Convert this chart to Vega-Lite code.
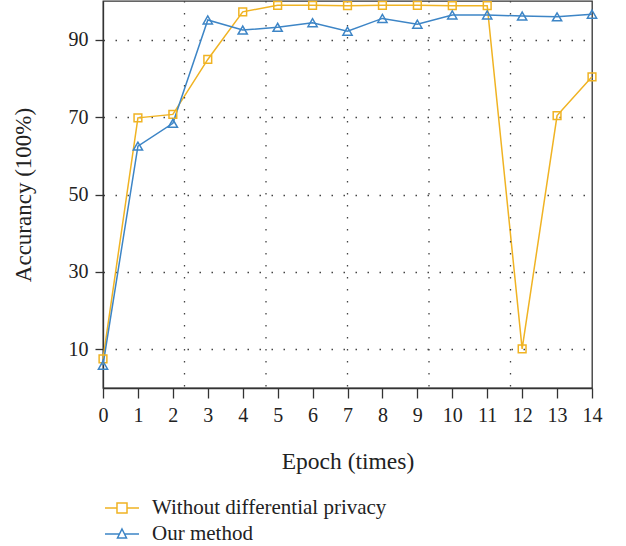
{
  "$schema": "https://vega.github.io/schema/vega-lite/v6.json",
  "width": 489,
  "height": 387,
  "autosize": "none",
  "padding": {"left": 103, "top": 1, "right": 34, "bottom": 158},
  "background": "white",
  "config": {
    "view": {"stroke": "#333", "strokeWidth": 1.3},
    "font": "Liberation Serif",
    "axis": {
      "labelFont": "Liberation Serif",
      "titleFont": "Liberation Serif",
      "labelColor": "#222",
      "titleColor": "#222",
      "domainColor": "#333",
      "tickColor": "#333",
      "domainWidth": 1.3,
      "tickWidth": 1.3,
      "titleFontWeight": "normal",
      "labelOverlap": false
    }
  },
  "datasets": {
    "acc": [
      {"epoch": 0, "acc": 7.5, "series": "Without differential privacy"},
      {"epoch": 1, "acc": 69.8, "series": "Without differential privacy"},
      {"epoch": 2, "acc": 70.7, "series": "Without differential privacy"},
      {"epoch": 3, "acc": 84.9, "series": "Without differential privacy"},
      {"epoch": 4, "acc": 97.2, "series": "Without differential privacy"},
      {"epoch": 5, "acc": 98.9, "series": "Without differential privacy"},
      {"epoch": 6, "acc": 98.9, "series": "Without differential privacy"},
      {"epoch": 7, "acc": 98.8, "series": "Without differential privacy"},
      {"epoch": 8, "acc": 98.9, "series": "Without differential privacy"},
      {"epoch": 9, "acc": 98.9, "series": "Without differential privacy"},
      {"epoch": 10, "acc": 98.8, "series": "Without differential privacy"},
      {"epoch": 11, "acc": 98.8, "series": "Without differential privacy"},
      {"epoch": 12, "acc": 10.1, "series": "Without differential privacy"},
      {"epoch": 13, "acc": 70.4, "series": "Without differential privacy"},
      {"epoch": 14, "acc": 80.4, "series": "Without differential privacy"},
      {"epoch": 0, "acc": 5.9, "series": "Our method"},
      {"epoch": 1, "acc": 62.5, "series": "Our method"},
      {"epoch": 2, "acc": 68.4, "series": "Our method"},
      {"epoch": 3, "acc": 95.1, "series": "Our method"},
      {"epoch": 4, "acc": 92.5, "series": "Our method"},
      {"epoch": 5, "acc": 93.2, "series": "Our method"},
      {"epoch": 6, "acc": 94.4, "series": "Our method"},
      {"epoch": 7, "acc": 92.2, "series": "Our method"},
      {"epoch": 8, "acc": 95.5, "series": "Our method"},
      {"epoch": 9, "acc": 94.0, "series": "Our method"},
      {"epoch": 10, "acc": 96.4, "series": "Our method"},
      {"epoch": 11, "acc": 96.4, "series": "Our method"},
      {"epoch": 12, "acc": 96.1, "series": "Our method"},
      {"epoch": 13, "acc": 95.9, "series": "Our method"},
      {"epoch": 14, "acc": 96.6, "series": "Our method"}
    ],
    "grid": [
      {"g": 2.3333},
      {"g": 4.6667},
      {"g": 7},
      {"g": 9.3333},
      {"g": 11.6667}
    ]
  },
  "layer": [
    {
      "data": {"name": "acc"},
      "mark": {"type": "line", "strokeWidth": 1.5},
      "encoding": {
        "x": {
          "field": "epoch", "type": "quantitative",
          "scale": {"domain": [0, 14], "nice": false},
          "axis": {
            "values": [0,1,2,3,4,5,6,7,8,9,10,11,12,13,14],
            "tickCount": 30,
            "format": "d",
            "labelFlush": false,
            "grid": false, "tickSize": 10, "labelFontSize": 20, "labelPadding": 7, "labelOverlap": false,
            "title": "Epoch (times)", "titleFontSize": 23.5, "titlePadding": 24
          }
        },
        "y": {
          "field": "acc", "type": "quantitative",
          "scale": {"domain": [0, 100], "nice": false},
          "axis": {
            "values": [10, 30, 50, 70, 90],
            "grid": true, "gridDash": [1.5, 10.5], "gridColor": "#444", "gridWidth": 1.3,
            "tickSize": 8, "labelFontSize": 20, "labelPadding": 7,
            "title": "Accurancy (100%)", "titleFontSize": 23, "titlePadding": 33
          }
        },
        "color": {
          "field": "series", "type": "nominal",
          "scale": {"domain": ["Without differential privacy", "Our method"], "range": ["#F0B323", "#3D85C6"]},
          "legend": {
            "title": null,
            "orient": "none",
            "legendX": 5,
            "legendY": 493,
            "direction": "vertical",
            "padding": 0,
            "rowPadding": 2,
            "symbolSize": 676,
            "symbolStrokeWidth": 1.5,
            "labelOffset": 16,
            "labelFont": "Liberation Serif",
            "labelFontSize": 21,
            "labelColor": "#222",
            "labelLimit": 400,
            "encode": {
              "symbols": {
                "update": {
                  "shape": {"signal": "datum.value === 'Our method' ? 'M-1.31,0H-0.19M0.19,0H1.31M0,-0.385L0.346,0.31L-0.346,0.31Z' : 'M-1.31,0H-0.385M0.385,0H1.31M-0.385,-0.385H0.385V0.385H-0.385Z'"},
                  "fill": {"value": "transparent"}
                }
              }
            }
          }
        }
      }
    },
    {
      "data": {"name": "grid"},
      "mark": {"type": "rule", "color": "#444", "strokeDash": [1.5, 10.5], "strokeWidth": 1.3},
      "encoding": {
        "x": {"field": "g", "type": "quantitative"}
      }
    },
    {
      "data": {"name": "acc"},
      "transform": [{"filter": "datum.series === 'Without differential privacy'"}],
      "mark": {"type": "point", "shape": "square", "filled": false, "color": "#F0B323", "strokeWidth": 1.5, "opacity": 1, "size": 60},
      "encoding": {
        "x": {"field": "epoch", "type": "quantitative"},
        "y": {"field": "acc", "type": "quantitative"}
      }
    },
    {
      "data": {"name": "acc"},
      "transform": [{"filter": "datum.series === 'Our method'"}],
      "mark": {"type": "point", "shape": "triangle-up", "filled": false, "color": "#3D85C6", "strokeWidth": 1.5, "opacity": 1, "size": 85},
      "encoding": {
        "x": {"field": "epoch", "type": "quantitative"},
        "y": {"field": "acc", "type": "quantitative"}
      }
    }
  ]
}
